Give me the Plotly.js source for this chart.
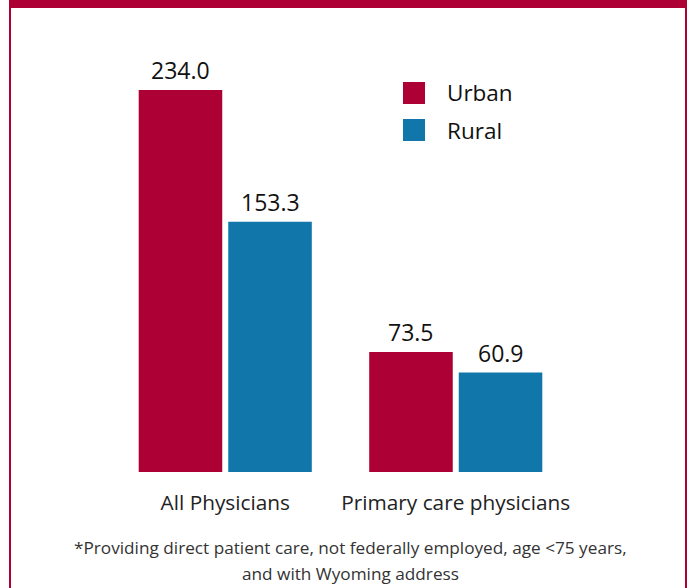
<!DOCTYPE html>
<html>
<head>
<meta charset="utf-8">
<script src="https://cdn.plot.ly/plotly-3.0.1.min.js"></script>
<style>
  html, body { margin: 0; padding: 0; background: #ffffff; }
  #wrap { position: relative; width: 689px; height: 588px; overflow: hidden; }
  #chart { position: absolute; left: 0; top: 0; width: 689px; height: 588px; }
  #frame { position: absolute; left: 9px; top: 0; width: 674px; height: 600px;
           border-left: 2px solid #AD0034; border-right: 2px solid #AD0034; border-top: 8px solid #AD0034;
           pointer-events: none; }
</style>
</head>
<body>
<div id="wrap">
  <div id="chart"></div>
  <div id="frame"></div>
</div>
<script>
const categories = ["All Physicians", "Primary care physicians"];
const seriesNames = ["Urban", "Rural"];
const urbanValues = [234.0, 73.5];
const ruralValues = [153.3, 60.9];
const seriesColors = ["#AD0034", "#1177AA"];
const footnoteLines = [
  "*Providing direct patient care, not federally employed, age &lt;75 years,",
  "and with Wyoming address"
];

const FONT = "Open Sans, Noto Sans, DejaVu Sans, sans-serif";
const seriesValues = [urbanValues, ruralValues];

const bargap = 0.223;
const bargroupgap = 0.067;

const traces = seriesNames.map((name, i) => ({
  type: "bar",
  name: name,
  x: categories,
  y: seriesValues[i],
  marker: { color: seriesColors[i] },
  hoverinfo: "skip",
  showlegend: false
}));

// value labels
const slot = (1 - bargap) / seriesNames.length;
const annotations = [];
seriesValues.forEach((vals, s) => {
  vals.forEach((v, c) => {
    annotations.push({
      xref: "x", yref: "y",
      x: c - (1 - bargap) / 2 + slot * (s + 0.5),
      y: v,
      text: v.toFixed(1),
      showarrow: false,
      yanchor: "middle",
      yshift: 20,
      font: { family: FONT, size: 23, color: "#111111" }
    });
  });
});

// legend (drawn manually for large square swatches)
const shapes = [];
seriesNames.forEach((name, i) => {
  const yc = 93 + i * 37;
  shapes.push({
    type: "rect", xref: "paper", yref: "paper",
    x0: (403 - 110) / 461, x1: (425 - 110) / 461,
    y0: (472 - (yc + 11)) / 408, y1: (472 - (yc - 11)) / 408,
    fillcolor: seriesColors[i], line: { width: 0 }
  });
  annotations.push({
    xref: "paper", yref: "paper",
    x: (445 - 110) / 461, y: (472 - yc) / 408,
    xanchor: "left", yanchor: "middle",
    text: name, showarrow: false,
    font: { family: FONT, size: 22.5, color: "#111111" }
  });
});

// footnote
footnoteLines.forEach((line, i) => {
  annotations.push({
    xref: "paper", yref: "paper",
    x: (350 - 110) / 461, y: (472 - (547 + 26 * i)) / 408,
    xanchor: "center", yanchor: "middle",
    text: line,
    showarrow: false, align: "center",
    font: { family: FONT, size: 17.2, color: "#333333" }
  });
});

const layout = {
  width: 689, height: 588,
  margin: { l: 110, r: 118, t: 64, b: 116 },
  paper_bgcolor: "rgba(0,0,0,0)",
  plot_bgcolor: "rgba(0,0,0,0)",
  barmode: "group",
  bargap: bargap,
  bargroupgap: bargroupgap,
  showlegend: false,
  xaxis: {
    type: "category",
    showline: false, showgrid: false, zeroline: false,
    ticks: "", ticklabelstandoff: 16,
    tickfont: { family: FONT, size: 20.8, color: "#222222" },
    fixedrange: true
  },
  yaxis: {
    range: [0, 250],
    visible: false, showgrid: false, zeroline: false,
    fixedrange: true
  },
  shapes: shapes,
  annotations: annotations
};

Plotly.newPlot("chart", traces, layout, { displayModeBar: false, staticPlot: true });
</script>
</body>
</html>
